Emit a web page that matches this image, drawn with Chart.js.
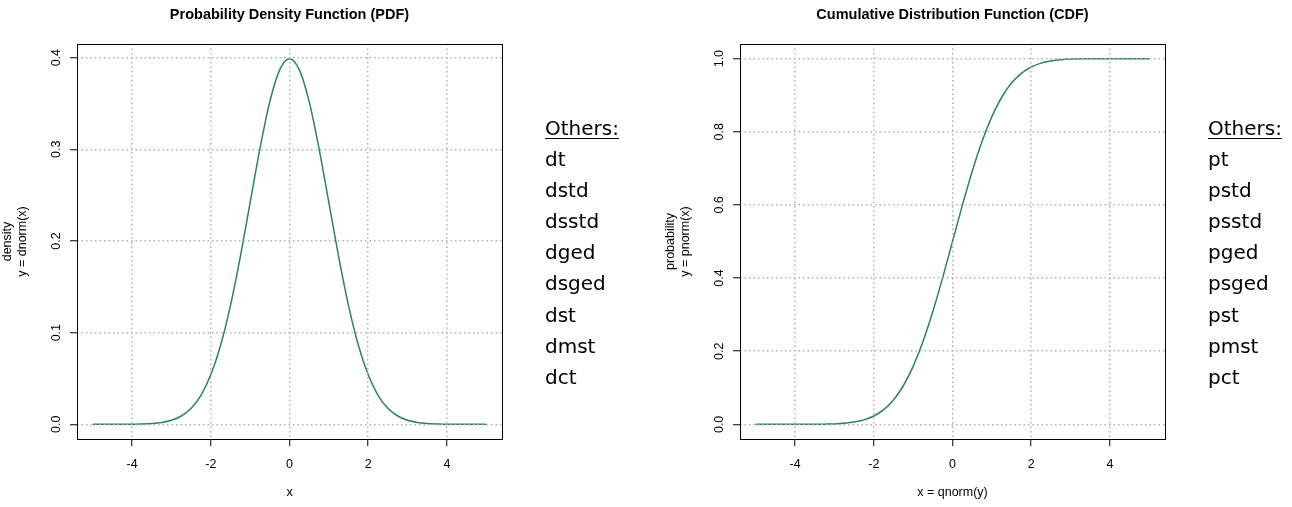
<!DOCTYPE html>
<html>
<head>
<meta charset="utf-8">
<script src="https://cdn.jsdelivr.net/npm/chart.js@4.4.1/dist/chart.umd.min.js"></script>
<style>
  body{margin:0;background:#fff;width:1292px;height:507px;overflow:hidden;position:relative}
  canvas{position:absolute;top:0}
  #c_pdf{left:0}
  #c_cdf{left:663px}
  .others{position:absolute;top:113px;font-family:"DejaVu Sans";font-size:20px;line-height:31.1px;color:#000}
  .others .head{text-decoration:underline;text-decoration-thickness:1px;text-underline-offset:3px}
</style>
</head>
<body>
<canvas id="c_pdf" width="560" height="507"></canvas>
<canvas id="c_cdf" width="560" height="507"></canvas>
<div class="others" id="o_pdf" style="left:545px"></div>
<div class="others" id="o_cdf" style="left:1208px"></div>
<script>
// values
const xs=[-5,-4.75,-4.5,-4.25,-4,-3.75,-3.5,-3.25,-3,-2.75,-2.5,-2.25,-2,-1.75,-1.5,-1.25,-1,-0.75,-0.5,-0.25,
  0,0.25,0.5,0.75,1,1.25,1.5,1.75,2,2.25,2.5,2.75,3,3.25,3.5,3.75,4,4.25,4.5,4.75,5]
const pdf_vals=[0,0,0,0.0001,0.0001,0.0004,0.0009,0.002,0.0044,0.0091,0.0175,0.0317,0.054,0.0863,0.1295,0.1826,0.242,0.3011,0.3521,0.3867,
  0.3989,0.3867,0.3521,0.3011,0.242,0.1826,0.1295,0.0863,0.054,0.0317,0.0175,0.0091,0.0044,0.002,0.0009,0.0004,0.0001,0.0001,0,0,0]
const cdf_vals=[0,0,0,0,0,0.0001,0.0002,0.0006,0.0013,0.003,0.0062,0.0122,0.0228,0.0401,0.0668,0.1056,0.1587,0.2266,0.3085,0.4013,
  0.5,0.5987,0.6915,0.7734,0.8413,0.8944,0.9332,0.9599,0.9772,0.9878,0.9938,0.997,0.9987,0.9994,0.9998,0.9999,1,1,1,1,1]
const x_ticks=[-4,-2,0,2,4]
const pdf_ticks=[0,0.1,0.2,0.3,0.4]
const cdf_ticks=[0,0.2,0.4,0.6,0.8,1]
const pdf_others=["dt","dstd","dsstd","dged","dsged","dst","dmst","dct"]
const cdf_others=["pt","pstd","psstd","pged","psged","pst","pmst","pct"]

const FONT='"Liberation Sans", Arial, sans-serif'
const AX=12.5

// R style box + rotated y labels
const r_box={
  id:'r_box',
  afterDraw(chart){
    const ctx=chart.ctx, a=chart.chartArea, y=chart.scales.y
    ctx.save()
    ctx.strokeStyle='#000'
    ctx.lineWidth=1
    ctx.strokeRect(a.left+0.5,a.top+0.5,a.right-a.left,a.bottom-a.top)
    ctx.fillStyle='#000'
    ctx.font=AX+'px '+FONT
    ctx.textAlign='center'
    ctx.textBaseline='middle'
    y.ticks.forEach(t=>{
      ctx.save()
      ctx.translate(57,y.getPixelForValue(t.value))
      ctx.rotate(-Math.PI/2)
      ctx.fillText(t.value.toFixed(1),0,0)
      ctx.restore()
    })
    ctx.restore()
  }
}

function make_chart(id,title,x_title,y_title,vals,y_min,y_max,y_ticks){
  const grid={color:'#b0b0b0',lineWidth:1.5,tickColor:'#000',tickWidth:1,tickLength:7,tickBorderDash:[],z:1}
  return new Chart(id,{
    type:'line',
    data:{
      datasets:[{
        data:xs.map((x,i)=>({x:x,y:vals[i]})),
        borderColor:'#2e8459',
        borderWidth:1.5,
        pointRadius:0,
        cubicInterpolationMode:'monotone',
        fill:false
      }]
    },
    options:{
      responsive:false,
      animation:false,
      devicePixelRatio:1,
      layout:{padding:{left:0,right:58,top:0,bottom:0}},
      plugins:{
        legend:{display:false},
        tooltip:{enabled:false},
        title:{display:true,text:title,fullSize:false,color:'#000',
          font:{family:FONT,size:14.5,weight:'bold'},padding:{top:6.3,bottom:20.3}}
      },
      scales:{
        x:{
          type:'linear',min:-5.4,max:5.4,
          afterBuildTicks:s=>{s.ticks=x_ticks.map(v=>({value:v}))},
          afterFit:s=>{s.height=68},
          grid:grid,
          border:{display:false,dash:[1.5,3]},
          ticks:{color:'#000',font:{family:FONT,size:AX},padding:11,maxRotation:0},
          title:{display:true,text:x_title,color:'#000',font:{family:FONT,size:AX},padding:{top:0,bottom:6.5}}
        },
        y:{
          type:'linear',min:y_min,max:y_max,
          afterBuildTicks:s=>{s.ticks=y_ticks.map(v=>({value:v}))},
          afterFit:s=>{s.width=77},
          grid:grid,
          border:{display:false,dash:[1.5,3]},
          ticks:{display:false},
          title:{display:true,text:y_title,color:'#000',font:{family:FONT,size:AX,lineHeight:1.2},padding:{top:0.5,bottom:0}}
        }
      }
    },
    plugins:[r_box]
  })
}

make_chart('c_pdf','Probability Density Function (PDF)','x',['density','y = dnorm(x)'],pdf_vals,-0.016,0.4149,pdf_ticks)
make_chart('c_cdf','Cumulative Distribution Function (CDF)','x = qnorm(y)',['probability','y = pnorm(x)'],cdf_vals,-0.04,1.04,cdf_ticks)

function fill_others(id,list){
  let html="<div class='head'>Others:</div>"
  for(let i=0;i<list.length;i++){
    html+="<div>"+list[i]+"</div>"
  }
  document.getElementById(id).innerHTML=html
}
fill_others('o_pdf',pdf_others)
fill_others('o_cdf',cdf_others)
</script>
</body>
</html>
